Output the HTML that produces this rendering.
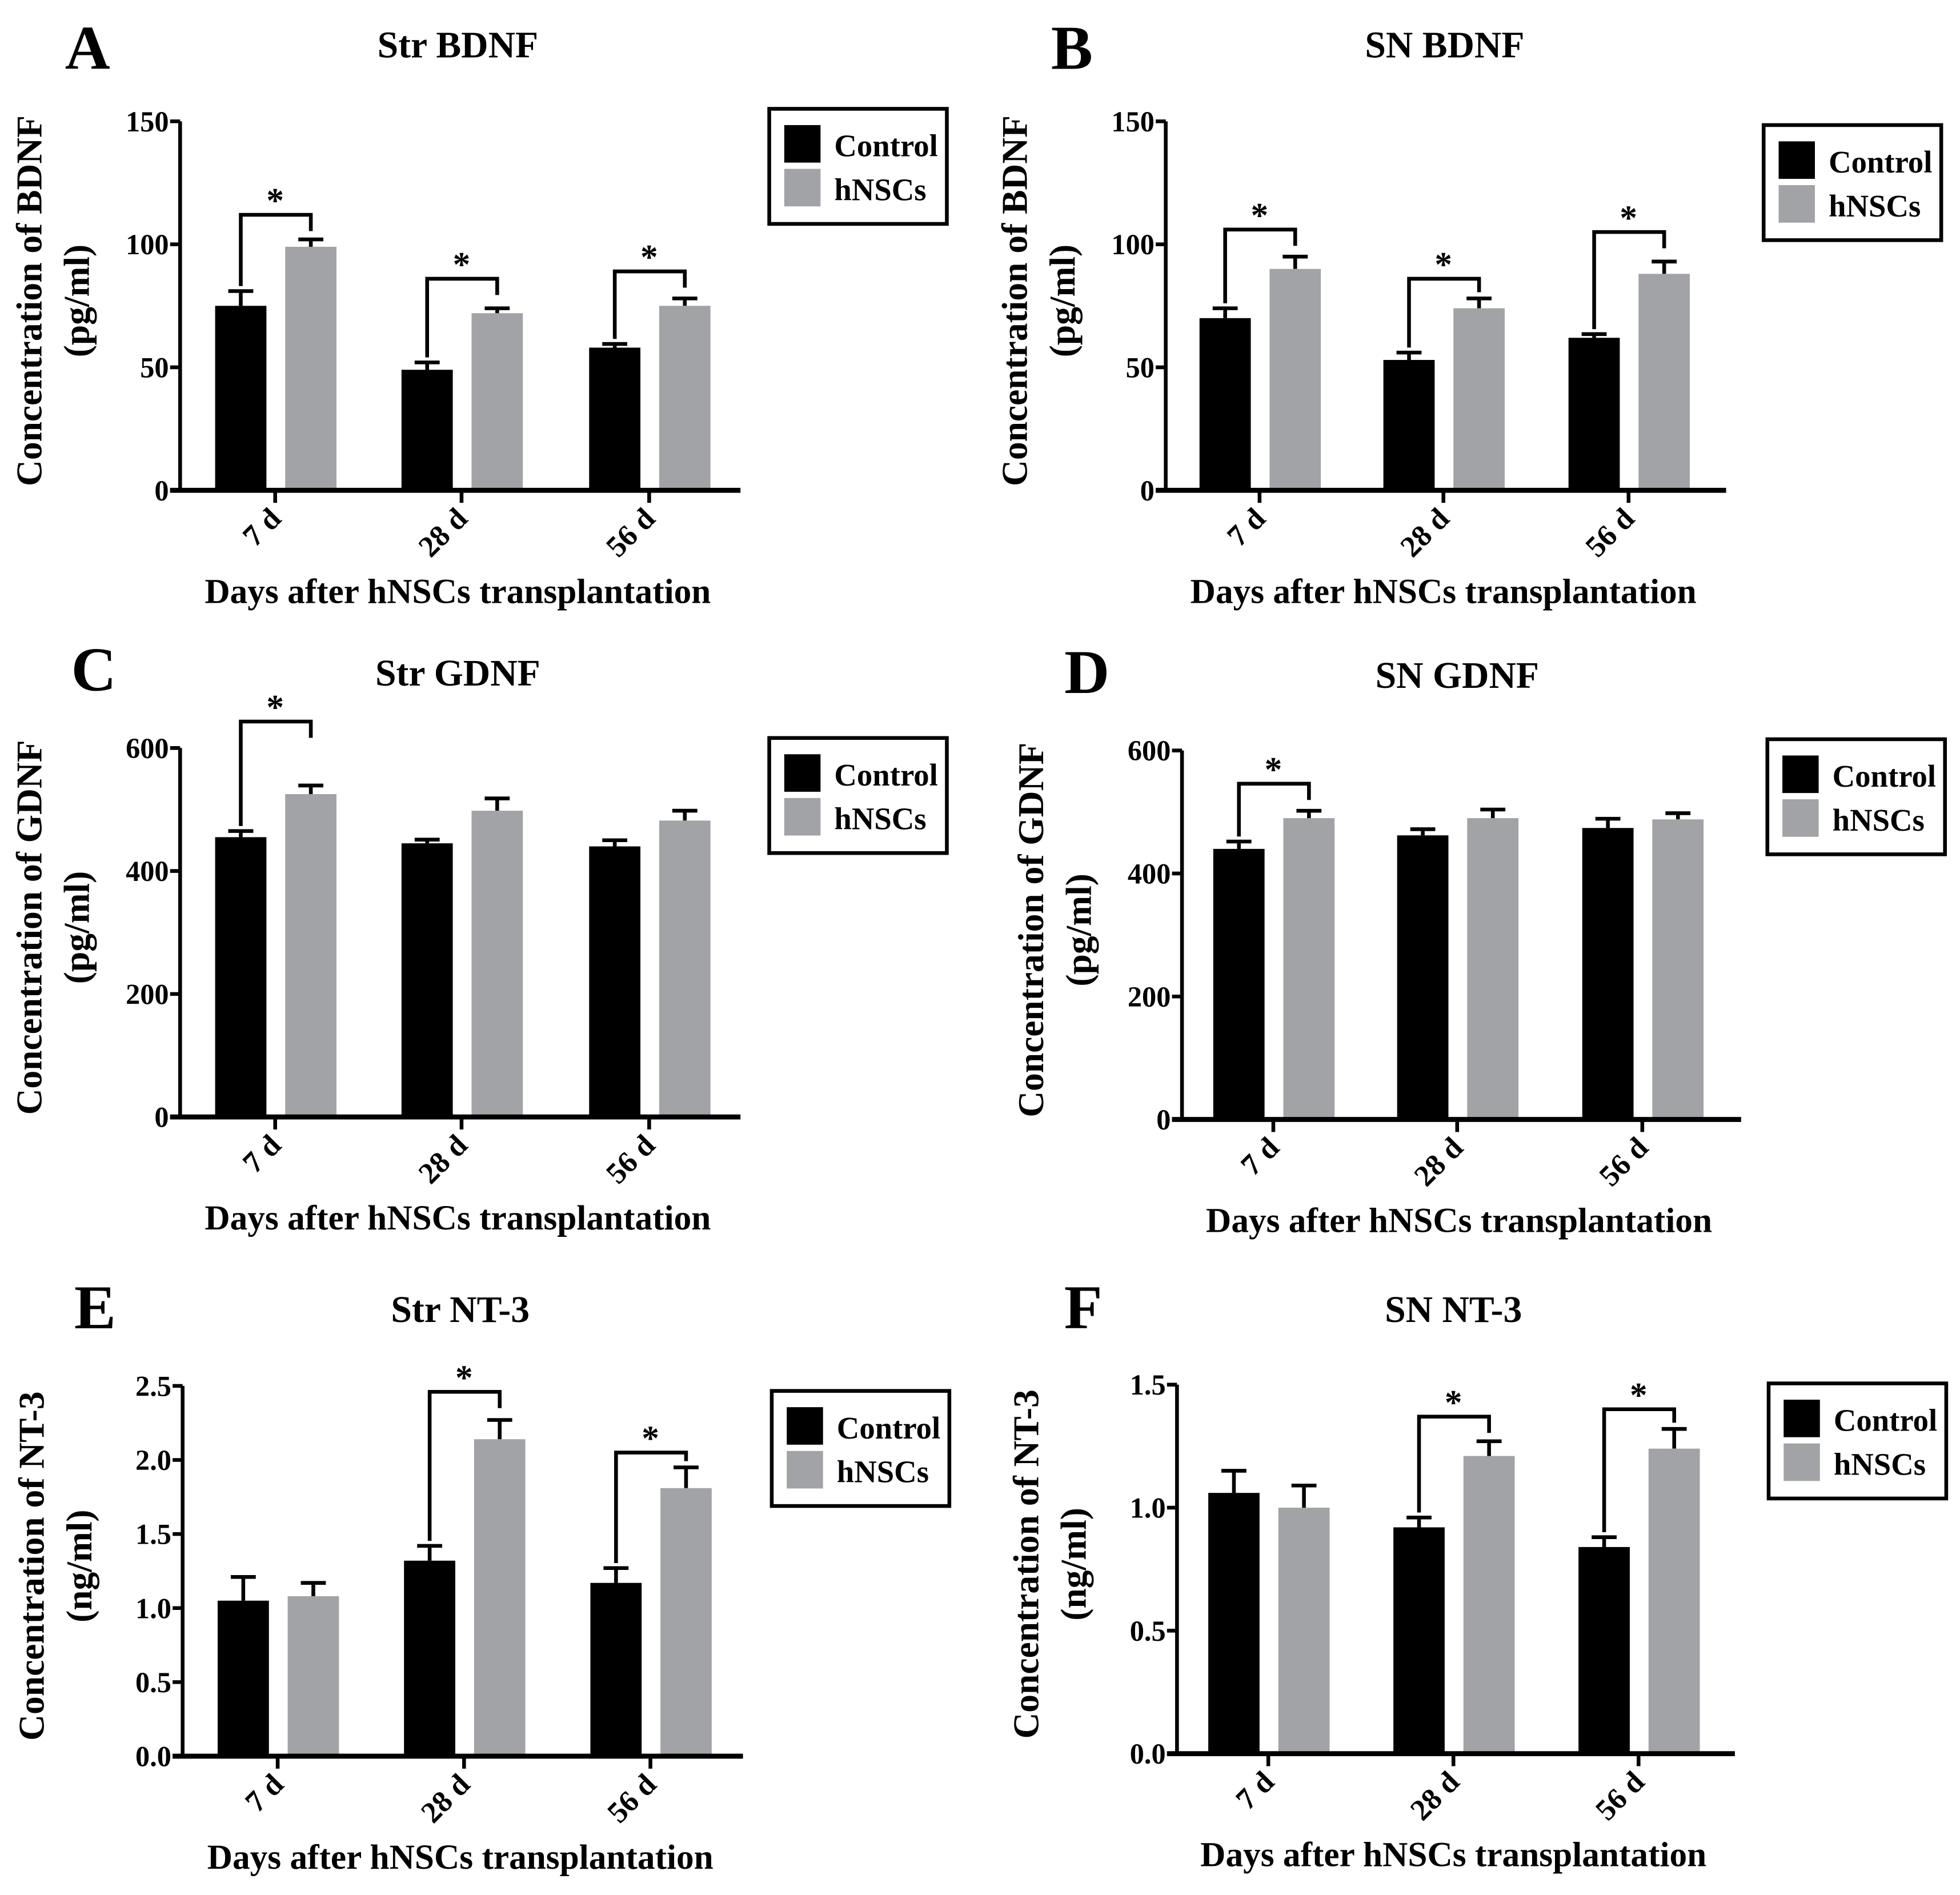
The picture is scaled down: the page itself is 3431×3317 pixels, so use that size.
<!DOCTYPE html>
<html><head><meta charset="utf-8"><style>
html,body{margin:0;padding:0;background:#fff;}
svg{display:block;}
text{font-family:"Liberation Serif",serif;font-weight:bold;fill:#000;}
</style></head><body>
<svg id="fig" width="3431" height="3317" viewBox="0 0 1567 1515" preserveAspectRatio="none" xmlns="http://www.w3.org/2000/svg"></svg>
<script>
const categories = ["7 d","28 d","56 d"];
const seriesNames = ["Control","hNSCs"];
const ctrlA=[75,49,58], ctrlAErr=[6,3,1.5], hA=[99,72,75], hAErr=[3,2,3], sigA=[112,86,89];
const ctrlB=[70,53,62], ctrlBErr=[4,3,1.5], hB=[90,74,88], hBErr=[5,4,5], sigB=[106,86,105];
const ctrlC=[455,445,440], ctrlCErr=[10,6,10], hC=[525,498,482], hCErr=[14,20,16], sigC=[643,null,null];
const ctrlD=[440,462,474], ctrlDErr=[12,10,15], hD=[490,490,488], hDErr=[12,14,10], sigD=[546,null,null];
const ctrlE=[1.05,1.32,1.17], ctrlEErr=[0.16,0.1,0.1], hE=[1.08,2.14,1.81], hEErr=[0.09,0.13,0.14], sigE=[null,2.46,2.05];
const ctrlF=[1.06,0.92,0.84], ctrlFErr=[0.09,0.04,0.04], hF=[1.00,1.21,1.24], hFErr=[0.09,0.06,0.08], sigF=[null,1.37,1.40];
const ticksAB=[0,50,100,150], ticksCD=[0,200,400,600], ticksE=[0,0.5,1,1.5,2,2.5], ticksF=[0,0.5,1,1.5];
const tickLabE=["0.0","0.5","1.0","1.5","2.0","2.5"], tickLabF=["0.0","0.5","1.0","1.5"];

const svg=document.getElementById('fig');
const NS="http://www.w3.org/2000/svg";
function mk(tag,attrs,parent,txt){const e=document.createElementNS(NS,tag);for(const k in attrs)e.setAttribute(k,attrs[k]);if(txt!==undefined)e.textContent=txt;(parent||svg).appendChild(e);return e;}

const panels=[
 {id:"a",letter:"A",title:"Str BDNF",ylab:"Concentration of BDNF",unit:"(pg/ml)",ax:144,yTop:97,yBot:392,xEnd:592,cx:[220,369,519],max:150,ticks:ticksAB,tl:null,c:ctrlA,ce:ctrlAErr,h:hA,he:hAErr,sig:sigA,leg:[615,87],lx:70,ly:38,tx:366,ty:36},
 {id:"b",letter:"B",title:"SN BDNF",ylab:"Concentration of BDNF",unit:"(pg/ml)",ax:932,yTop:97,yBot:392,xEnd:1380,cx:[1007,1154,1302],max:150,ticks:ticksAB,tl:null,c:ctrlB,ce:ctrlBErr,h:hB,he:hBErr,sig:sigB,leg:[1410,100],lx:857,ly:38,tx:1155,ty:36},
 {id:"c",letter:"C",title:"Str GDNF",ylab:"Concentration of GDNF",unit:"(pg/ml)",ax:144,yTop:598,yBot:893,xEnd:592,cx:[220,369,519],max:600,ticks:ticksCD,tl:null,c:ctrlC,ce:ctrlCErr,h:hC,he:hCErr,sig:sigC,leg:[615,590],lx:75,ly:535,tx:366,ty:538},
 {id:"d",letter:"D",title:"SN GDNF",ylab:"Concentration of GDNF",unit:"(pg/ml)",ax:945,yTop:600,yBot:895,xEnd:1392,cx:[1018,1165,1313],max:600,ticks:ticksCD,tl:null,c:ctrlD,ce:ctrlDErr,h:hD,he:hDErr,sig:sigD,leg:[1413,591],lx:869,ly:537,tx:1165,ty:540},
 {id:"e",letter:"E",title:"Str NT-3",ylab:"Concentration of NT-3",unit:"(ng/ml)",ax:146,yTop:1108,yBot:1404,xEnd:594,cx:[222,371,520],max:2.5,ticks:ticksE,tl:tickLabE,c:ctrlE,ce:ctrlEErr,h:hE,he:hEErr,sig:sigE,leg:[617,1112],lx:76,ly:1045,tx:368,ty:1047},
 {id:"f",letter:"F",title:"SN NT-3",ylab:"Concentration of NT-3",unit:"(ng/ml)",ax:941,yTop:1107,yBot:1402,xEnd:1387,cx:[1014,1162,1310],max:1.5,ticks:ticksF,tl:tickLabF,c:ctrlF,ce:ctrlFErr,h:hF,he:hFErr,sig:sigF,leg:[1414,1106],lx:866,ly:1045,tx:1162,ty:1047}
];

panels.forEach(p=>{
 const g=mk('g',{});
 
 
 const y=v=>p.yBot-(v/p.max)*(p.yBot-p.yTop);
 const L=mk('text',{x:p.lx,y:p.ly+17,'font-size':50,'text-anchor':'middle'},g,p.letter);
 
 
 const T=mk('text',{x:p.tx,y:p.ty+10,'font-size':30,'text-anchor':'middle'},g,p.title);
 
 
 p.cx.forEach((c,i)=>{
  [[p.c,p.ce,'#000',c-48,'control'],[p.h,p.he,'#a2a3a6',c+8,'hnscs']].forEach(([vals,errs,col,x0,nm])=>{
   const v=vals[i],e=errs[i],bx=x0+20.5;
   const er=mk('line',{x1:bx,x2:bx,y1:y(v),y2:y(v+e),stroke:'#000','stroke-width':3},g);
   
   
   const cap=mk('line',{x1:bx-10,x2:bx+10,y1:y(v+e),y2:y(v+e),stroke:'#000','stroke-width':3},g);
   
   
   const r=mk('rect',{x:x0,y:y(v),width:41,height:p.yBot-y(v),fill:col},g);
   
   
  });
  const s=p.sig[i];
  if(s!==null){
   const lx=c-27.5,rx=c+28.5,by=y(s);
   const lTop=y(p.c[i]+p.ce[i])-4, rTop=y(p.h[i]+p.he[i])-5;
   const br=mk('polyline',{points:`${lx},${lTop} ${lx},${by} ${rx},${by} ${rx},${Math.min(by+13,rTop)}`,fill:'none',stroke:'#000','stroke-width':3},g);
   
   
   const st=mk('text',{x:c,y:by-2,'font-size':28,'text-anchor':'middle'},g,'*');
   
   
  }
  const tk=mk('line',{x1:c,x2:c,y1:p.yBot,y2:p.yBot+10,stroke:'#000','stroke-width':3},g);
  
  
  const xl=mk('text',{x:c+6,y:p.yBot+24,'font-size':24,'text-anchor':'end',transform:`rotate(-45 ${c+6} ${p.yBot+24})`},g,categories[i]);
  
  
 });
 const ya=mk('line',{x1:p.ax,x2:p.ax,y1:p.yTop,y2:p.yBot+1.5,stroke:'#000','stroke-width':3},g);
 
 
 const xa=mk('line',{x1:p.ax-8,x2:p.xEnd,y1:p.yBot,y2:p.yBot,stroke:'#000','stroke-width':4},g);
 
 
 p.ticks.forEach((t,k)=>{
  const ty=y(t);
  const tl=mk('line',{x1:p.ax-8,x2:p.ax,y1:ty,y2:ty,stroke:'#000','stroke-width':3},g);
  
  
  const lab=mk('text',{x:p.ax-9,y:ty+8,'font-size':23,'text-anchor':'end'},g,p.tl?p.tl[k]:String(t));
  
  
 });
 const midY=(p.yTop+p.yBot)/2-4;
 const yt=mk('text',{x:0,y:0,'font-size':29,'text-anchor':'middle',transform:`translate(${p.ax-111} ${midY}) rotate(-90)`},g,p.ylab);
 
 
 const yu=mk('text',{x:0,y:0,'font-size':29,'text-anchor':'middle',transform:`translate(${p.ax-73} ${midY}) rotate(-90)`},g,p.unit);
 
 
 const xt=mk('text',{x:(p.ax+p.xEnd)/2-2,y:p.yBot+90,'font-size':28,'text-anchor':'middle'},g,'Days after hNSCs transplantation');
 
 
 const [lx,ly]=p.leg;
 const lg=mk('g',{},g);
 
 
 mk('rect',{x:lx,y:ly,width:142,height:92,fill:'#fff',stroke:'#000','stroke-width':3},lg);
 seriesNames.forEach((n,k)=>{
  const e=mk('g',{},lg);
  
  
  mk('rect',{x:lx+12,y:ly+13+k*35,width:29,height:30,fill:k?'#a2a3a6':'#000'},e);
  mk('text',{x:lx+52,y:ly+38+k*35,'font-size':25},e,n);
 });
});
</script>
</body></html>
